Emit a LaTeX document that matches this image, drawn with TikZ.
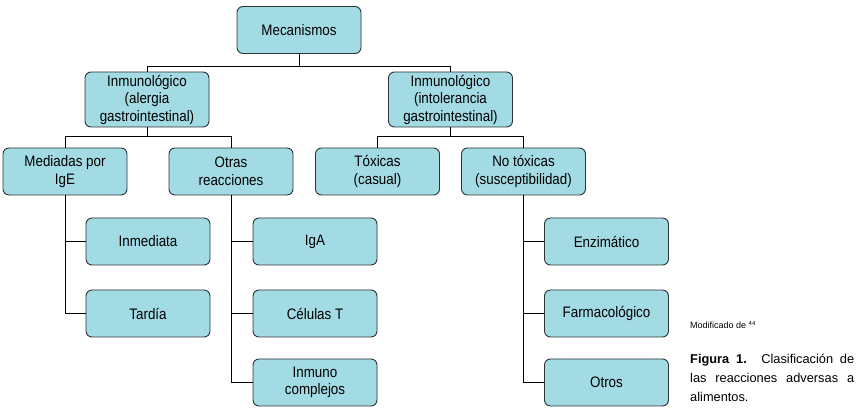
\documentclass[tikz,border=0pt]{standalone}
\usepackage{fontspec}
\setmainfont{Liberation Sans}[FakeStretch=0.88]
\newfontfamily\capfont{Liberation Sans}
\usepackage{tikz}
\usetikzlibrary{positioning}

\definecolor{boxfill}{RGB}{163,219,228}
\definecolor{boxline}{RGB}{45,50,55}

\begin{document}
\begin{tikzpicture}[
  x=1pt, y=-1pt,
  box/.style={draw=boxline, line width=0.9pt, rounded corners=6pt, fill=boxfill,
              minimum width=124pt, minimum height=47pt, align=center,
              inner xsep=2pt, inner ysep=1pt,
              font=\fontsize{15.2}{17.5}\selectfont},
  tall/.style={minimum height=55pt},
  link/.style={line width=1pt, black}
]
\useasboundingbox (0,0) rectangle (857,411);

\node[box] (mec) at (299,30) {Mecanismos};
\node[box, tall] (alg) at (147,99.5) {Inmunológico\\(alergia\\gastrointestinal)};
\node[box, tall] (int) at (450.5,99.5) {Inmunológico\\(intolerancia\\gastrointestinal)};

\node[box] (ige) at (65,171.5) {Mediadas por\\IgE};
\node[box] (otr) at (231,171.5) {Otras\\reacciones};
\node[box] (tox) at (377.5,171.5) {Tóxicas\\(casual)};
\node[box] (ntx) at (523.5,171.5) {No tóxicas\\(susceptibilidad)};

\node[box] (inm) at (148,241.5) {Inmediata};
\node[box] (tar) at (148,313.5) {Tardía};
\node[box] (iga) at (315,241.5) {IgA};
\node[box] (cel) at (315,313.5) {Células T};
\node[box] (cpl) at (315,382.5) {Inmuno\\complejos};
\node[box] (enz) at (606.5,241.5) {Enzimático};
\node[box] (far) at (606.5,313.5) {Farmacológico};
\node[box] (ots) at (606.5,382.5) {Otros};

% tree links
\foreach \a/\b in {mec/alg, mec/int}
  \draw[link] (\a.south) -- ++(0,13) -| (\b.north);
\foreach \a/\b in {alg/ige, alg/otr, int/tox, int/ntx}
  \draw[link] (\a.south) -- ++(0,9) -| (\b.north);
\foreach \a/\b in {ige/inm, ige/tar, otr/iga, otr/cel, otr/cpl, ntx/enz, ntx/far, ntx/ots}
  \draw[link] (\a.south) |- (\b.west);

% caption
\node[anchor=west, inner sep=0pt, font=\capfont\fontsize{9}{11}\selectfont] (mod) at (690,325)
  {Modificado de \textsuperscript{44}};
\node[anchor=north west, align=left, inner sep=0pt,
      font=\capfont\fontsize{12.8}{19}\selectfont] (cap) at (690,354)
  {\makebox[164pt][s]{\textbf{Figura 1.} Clasificación de}\\
   \makebox[164pt][s]{las reacciones adversas a}\\
   alimentos.};
\end{tikzpicture}
\end{document}
